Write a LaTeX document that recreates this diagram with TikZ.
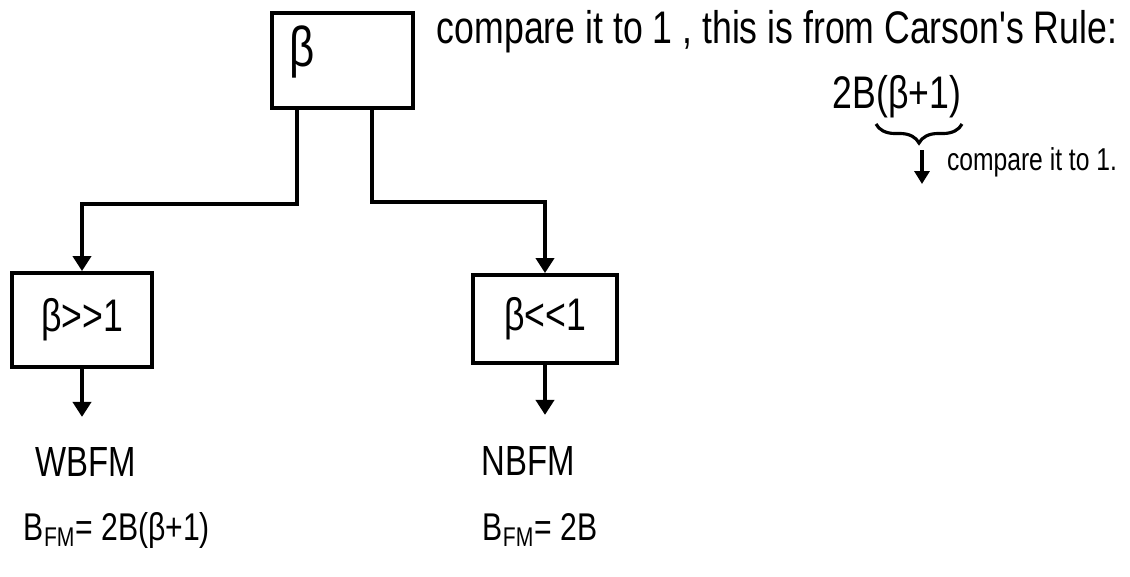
\documentclass[tikz,border=0pt]{standalone}
\usepackage{fontspec}
\setmainfont{Liberation Sans}
\newfontfamily\hand[FakeStretch=0.78]{Liberation Sans}
\usetikzlibrary{arrows.meta,decorations.pathreplacing}
\tikzset{
  ink/.style={line width=2.2pt, black},
  box/.style={ink, draw, rectangle, inner sep=0pt},
  conn/.style={ink, -{Triangle[length=0.3cm,width=0.36cm]}},
  smallconn/.style={ink, -{Triangle[length=0.26cm,width=0.3cm]}},
  txt/.style={font=\hand\fontsize{22}{26}\selectfont, inner sep=0pt},
  boxtxt/.style={font=\hand\fontsize{26}{30}\selectfont},
}
\begin{document}
\begin{tikzpicture}[x=0.02cm,y=-0.02cm]
\useasboundingbox (0,0) rectangle (1130,576);
% boxes
\node[box, minimum width=2.82cm, minimum height=1.9cm] (top) at (342.5,60.5) {};
\node[font=\hand\fontsize{32}{36}\selectfont] (btxt) at (302,52) {β};
\node[box, boxtxt, minimum width=2.8cm, minimum height=1.88cm] (left) at (82,320) {β>>1};
\node[box, boxtxt, minimum width=2.88cm, minimum height=1.76cm] (right) at (545,319) {β<<1};
% connectors
\draw[conn] ([xshift=-0.91cm]top.south) -- ++(0,-1.88cm) -| (left.north);
\draw[conn] ([xshift=0.59cm]top.south) -- ++(0,-1.84cm) -| (right.north);
\draw[conn] (left.south) -- ++(0,-0.96cm);
\draw[conn] (right.south) -- ++(0,-1.0cm);
% bottom labels
\node[txt, font=\hand\fontsize{24}{28}\selectfont] (wbfm) at (86,462) {WBFM};
\node[txt, font=\hand\fontsize{22}{26}\selectfont] (wbw) at (117,530) {B\textsubscript{FM}= 2B(β+1)};
\node[txt, font=\hand\fontsize{24}{28}\selectfont] (nbfm) at (528,461) {NBFM};
\node[txt, font=\hand\fontsize{22}{26}\selectfont] (nbw) at (540,530) {B\textsubscript{FM}= 2B};
% top-right notes
\node[txt, font=\hand\fontsize{26}{30}\selectfont] (note) at (777,32) {compare it to 1 , this is from Carson's Rule:};
\node[txt, font=\hand\fontsize{26}{30}\selectfont] (carson) at (897,97) {2B(β+1)};
\draw[ink, line width=1.8pt, decoration={brace, mirror, amplitude=0.38cm}, decorate] (876,124) -- (962,124);
\coordinate (a1) at (922,150);
\coordinate (a2) at (922,184);
\draw[smallconn] (a1) -- (a2);
\node[txt, font=\hand\fontsize{18}{21}\selectfont] (cmp) at (1032,162) {compare it to 1.};
\end{tikzpicture}
\end{document}
